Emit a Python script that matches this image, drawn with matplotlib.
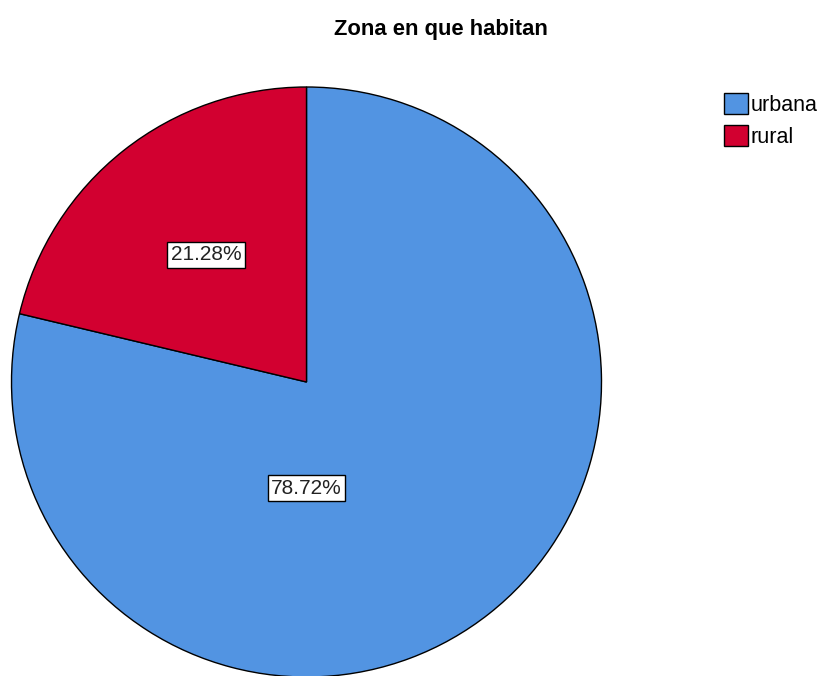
import numpy as np
import matplotlib.pyplot as plt

plt.rcParams['font.family'] = ['Liberation Sans', 'DejaVu Sans']

labels = ["urbana", "rural"]
values = [78.72, 21.28]
colors = ["#5294E2", "#D20030"]

FIG_DPI = 100
FIG_SIZE = (8.28, 6.76)

fig = plt.figure(figsize=FIG_SIZE, dpi=FIG_DPI)
ax = fig.add_axes([11.5 / 828, -1.0 / 676, 590 / 828, 590 / 676])

wedges, texts, autotexts = ax.pie(
    values, colors=colors, startangle=90, counterclock=False,
    autopct="%.2f%%", pctdistance=0.55,
    wedgeprops=dict(edgecolor="black", linewidth=1.0),
    textprops=dict(fontsize=15),
)
# SPSS puts the big slice label straight below the centre
autotexts[0].set_position((0, -0.36))
for t in autotexts:
    t.set_bbox(dict(facecolor="white", edgecolor="black", linewidth=1.0, pad=2.5))
    t.set_color("#222222")

ax.set_xlim(-1, 1)
ax.set_ylim(-1, 1)
ax.set_aspect("equal")
ax.axis("off")

fig.text(441 / 828, 1 - 30 / 676, "Zona en que habitan", ha="center", va="center",
         fontsize=15.8, fontweight="bold")

fig.legend(wedges, labels, loc="upper left", bbox_to_anchor=(709 / 828, 1 - 78 / 676),
           frameon=False, fontsize=15.5, handlelength=1.1, handleheight=1.1,
           handletextpad=0.15, labelspacing=0.45, borderpad=0.2)

plt.savefig("out.png", dpi=FIG_DPI)
